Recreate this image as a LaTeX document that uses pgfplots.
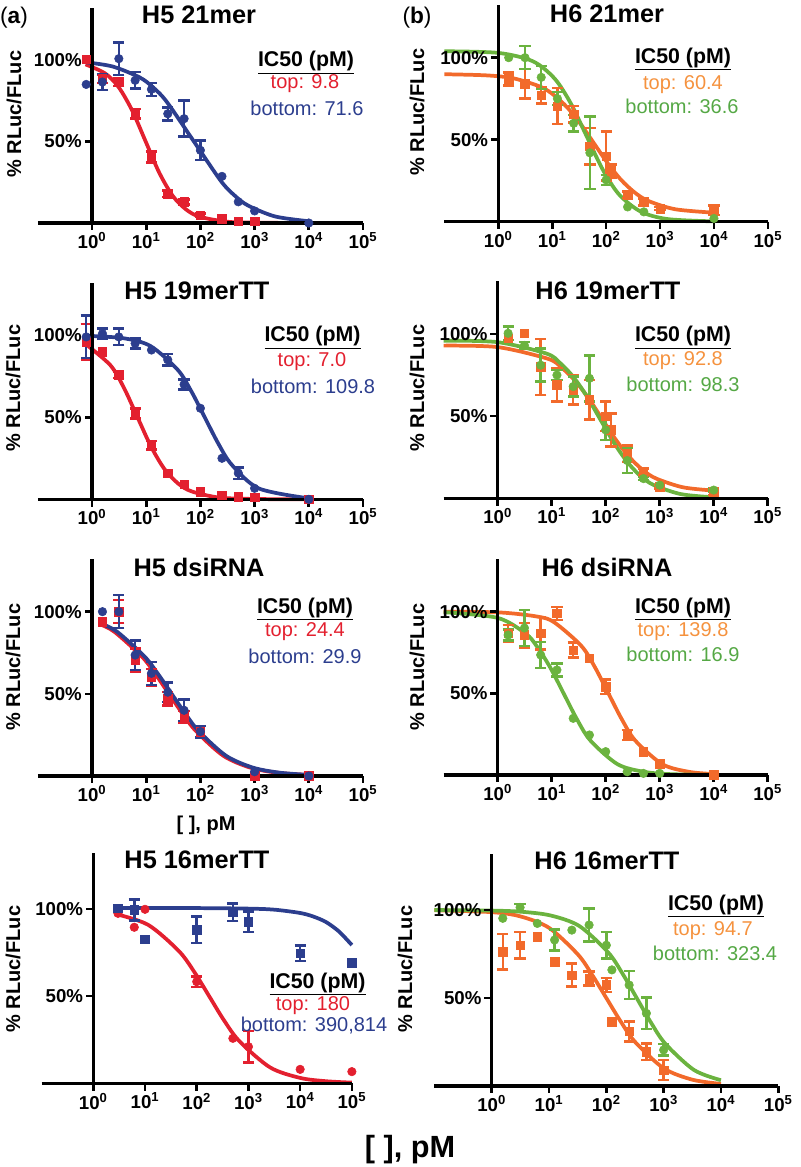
\documentclass[border=0pt]{standalone}
\usepackage{fontspec}
\setmainfont{Liberation Sans}
\usepackage{pgfplots}
\pgfplotsset{compat=1.18}

\definecolor{cR}{HTML}{E3202F}
\definecolor{cB}{HTML}{2C3E8E}
\definecolor{cO}{HTML}{F26A2B}
\definecolor{cG}{HTML}{6BB33F}
\definecolor{tO}{HTML}{F5923E}
\definecolor{tG}{HTML}{55A845}

\newcommand\fs[1]{\fontsize{#1}{#1}\selectfont}

\pgfplotsset{
  panel/.style={scale only axis, hide axis, clip=false, anchor=south west,
    xmin=-1, xmax=5, ymin=0, ymax=132},
  fit/.style={smooth, no marks, line width=2.8pt},
  dots/.style={only marks, mark size=3.2pt},
  pts/.style={only marks, mark size=3.2pt,
    error bars/y dir=both, error bars/y explicit,
    error bars/error bar style={line width=1.9pt, solid},
    error bars/error mark options={line width=1.9pt, mark size=4.2pt, rotate=90}},
}

% axis lines, ticks and tick labels (x in log10 pM)
\newcommand\frameaxes{%
  \draw[line width=2.6pt] (axis cs:-1,0) -- (axis cs:5,0);
  \draw[line width=2.6pt] (axis cs:0,0) -- (axis cs:0,132);
  \draw[line width=2pt] (axis cs:0,100) -- ++(-5.5pt,0pt);
  \draw[line width=2pt] (axis cs:0,50) -- ++(-5.5pt,0pt);
  \node[anchor=east, inner sep=0pt, font=\fs{14}\bfseries] at ([xshift=-7.5pt]axis cs:0,100) {100\%};
  \node[anchor=east, inner sep=0pt, font=\fs{14}\bfseries] at ([xshift=-7.5pt]axis cs:0,50) {50\%};
  \pgfplotsinvokeforeach{0,...,5}{%
    \draw[line width=2pt] (axis cs:##1,0) -- ++(0pt,-5.5pt);
    \node[anchor=north, inner sep=0pt, font=\fs{14}\bfseries] at ([yshift=-7pt]axis cs:##1,0) {10\textsuperscript{##1}};
  }%
}

\begin{document}
\begin{tikzpicture}[x=0.75pt, y=-0.75pt]
\path[use as bounding box] (0,0) rectangle (800,1167);

% ---- H5 21mer
\begin{axis}[panel, at={(28.35pt,-167.25pt)}, width=243.9pt, height=161.4pt]
\addplot[cR, fit] coordinates {(-0.12,97.3)(0.24,91.8)(0.49,83.4)(0.74,69.1)(0.99,50)(1.24,30.9)(1.49,16.6)(1.74,8.2)(1.99,3.8)(2.49,0.8)(3.0,0.2)(4.0,0)};
\addplot[cB, fit] coordinates {(-0.12,98.6)(0.38,96.0)(0.88,89.3)(1.13,83.1)(1.38,74.3)(1.88,50)(2.38,25.7)(2.63,16.9)(2.88,10.7)(3.38,4.0)(4.0,1.1)};
\addplot[cR, mark=square*, pts] coordinates {
 (0.193,88.5) +- (0,2.5) (0.495,86.5) +- (0,2.5) (0.796,67) +- (0,3)
 (1.097,40.5) +- (0,3.5) (1.398,18) +- (0,2) (1.699,13) +- (0,1.5) (2.0,4.7) +- (0,1)};
\addplot[cR, mark=square*, dots] coordinates {(-0.107,100.5)(2.398,2.7)(2.699,1.2)(3.0,1.2)};
\addplot[cB, mark=*, pts] coordinates {
 (0.193,86.5) +- (0,5) (0.495,100.8) +- (0,10) (0.796,87.5) +- (0,5)
 (1.097,82) +- (0,4) (1.398,67) +- (0,4) (1.699,64) +- (0,11) (2.0,44.6) +- (0,6)};
\addplot[cB, mark=*, dots] coordinates {(-0.107,85)(2.398,28.6)(2.699,13)(3.0,7.4)(4.0,0)};
\frameaxes
\end{axis}

% ---- H6 21mer
\begin{axis}[panel, at={(333.3pt,-166.275pt)}, width=242.6pt, height=162.4pt]
\addplot[cO, fit] coordinates {(-1,89.9)(-0.22,89.2)(0.28,87.4)(0.78,82.3)(1.03,77.2)(1.28,69.6)(1.53,59.4)(1.78,47.5)(2.03,35.6)(2.28,25.4)(2.53,17.8)(2.78,12.7)(3.28,7.6)(4.0,5.5)};
\addplot[cG, fit] coordinates {(-1,103.9)(0,102.9)(0.64,97.8)(1.04,87.4)(1.34,72.4)(1.64,52)(1.94,31.6)(2.24,16.6)(2.64,6.2)(3.14,1.6)(4.0,0.2)};
\addplot[cO, mark=square*, pts] coordinates {
 (0.193,87) +- (0,4) (0.495,84) +- (0,9) (0.796,77) +- (0,5)
 (1.097,70.5) +- (0,11) (1.398,65.4) +- (0,5) (1.699,46) +- (0,11)
 (2.0,40) +- (0,15) (2.097,31) +- (0,4) (2.398,16.4) +- (0,2)
 (2.699,12) +- (0,2) (3.0,8) +- (0,1) (4.0,7) +- (0,3)};
\addplot[cG, mark=*, pts] coordinates {
 (0.495,100) +- (0,7) (0.796,88) +- (0,7) (1.097,75) +- (0,4)
 (1.398,60) +- (0,5) (1.699,42) +- (0,22) (2.0,25.5) +- (0,3)};
\addplot[cG, mark=*, dots] coordinates {(0.193,100)(2.398,9)(2.699,6)(4.0,2)};
\frameaxes
\end{axis}

% ---- H5 19merTT
\begin{axis}[panel, at={(28.35pt,-374.475pt)}, width=243.9pt, height=162.4pt]
\addplot[cR, fit] coordinates {(-0.12,94.7)(0.34,81.7)(0.59,67.9)(0.84,50)(1.09,32.1)(1.34,18.3)(1.59,9.6)(1.84,4.8)(2.34,1.1)(3.0,0.2)(4.0,0)};
\addplot[cB, fit] coordinates {(-0.12,99.7)(0.58,98.2)(1.08,93.4)(1.58,79)(1.83,66)(2.08,50)(2.33,34)(2.58,21)(3.08,6.6)(4.0,0.6)};
\addplot[cR, mark=square*, pts] coordinates {
 (-0.107,96) +- (0,11) (0.495,76) +- (0,2) (0.796,52.4) +- (0,3) (1.097,33) +- (0,2.5)};
\addplot[cR, mark=square*, dots] coordinates {(0.193,90)(1.398,16)(1.699,9.3)(2.0,4.7)(2.398,2.6)(2.699,1.6)(3.0,1.2)(4.0,0)};
\addplot[cB, mark=*, pts] coordinates {
 (-0.107,99) +- (0,13) (0.193,101) +- (0,3) (0.495,99) +- (0,5)
 (0.796,95) +- (0,3) (1.398,85) +- (0,3.5) (1.699,70) +- (0,3) (2.699,16) +- (0,3.5)};
\addplot[cB, mark=*, dots] coordinates {(1.097,91)(2.0,55.5)(2.398,25)(3.0,6.7)(4.0,0)};
\frameaxes
\end{axis}

% ---- H6 19merTT
\begin{axis}[panel, at={(332.775pt,-373.725pt)}, width=243pt, height=162.7pt]
\addplot[cO, fit] coordinates {(-1,92.9)(0,92.0)(0.93,84.9)(1.18,79.6)(1.43,71.6)(1.68,61.0)(1.93,48.5)(2.18,36.0)(2.43,25.4)(2.68,17.4)(2.93,12.1)(3.43,6.7)(4.0,4.7)};
\addplot[cG, fit] coordinates {(-1,95.9)(0,95.0)(0.9,88.1)(1.15,82.5)(1.4,73.9)(1.65,62.1)(1.9,48)(2.15,33.9)(2.4,22.1)(2.65,13.4)(2.9,7.9)(3.4,2.5)(4.0,0.6)};
\addplot[cO, mark=square*, pts] coordinates {
 (0.796,80) +- (0,17) (1.097,69) +- (0,10) (1.398,66) +- (0,9) (1.699,60) +- (0,12)
 (2.0,50) +- (0,9) (2.097,41.6) +- (0,10) (2.398,27) +- (0,5)
 (2.699,16) +- (0,2) (3.0,7) +- (0,1) (4.0,4) +- (0,2)};
\addplot[cO, mark=square*, dots] coordinates {(0.193,97.4)(0.495,100.4)};
\addplot[cG, mark=*, pts] coordinates {
 (0.193,100.4) +- (0,4) (0.495,93) +- (0,2) (0.796,81) +- (0,10)
 (1.097,75) +- (0,3) (1.398,68) +- (0,6) (1.699,73) +- (0,14)
 (2.0,41.6) +- (0,6) (2.398,23) +- (0,7.5) (2.699,12) +- (0,1) (4.0,5) +- (0,1)};
\addplot[cG, mark=*, dots] coordinates {(3.0,8)};
\frameaxes
\end{axis}

% ---- H5 dsiRNA
\begin{axis}[panel, at={(28.35pt,-582pt)}, width=243.9pt, height=162.7pt]
\addplot[cR, fit] coordinates {(0.18,91.9)(0.42,87.6)(0.92,72.7)(1.17,62)(1.42,50)(1.67,38)(1.92,27.3)(2.42,12.4)(2.92,5.1)(3.42,2.0)(4.0,0.6)};
\addplot[cB, fit] coordinates {(0.18,92.6)(0.47,87.6)(0.97,72.7)(1.22,62)(1.47,50)(1.72,38)(1.97,27.3)(2.47,12.4)(2.97,5.1)(3.47,2.0)(4.0,0.7)};
\addplot[cR, mark=square*, pts] coordinates {
 (0.495,100) +- (0,7) (0.796,70.6) +- (0,7) (1.097,60) +- (0,5)
 (1.398,47) +- (0,4) (1.699,36) +- (0,3.5)};
\addplot[cR, mark=square*, dots] coordinates {(0.193,94)(2.0,27)(3.0,0)(4.0,0)};
\addplot[cB, mark=*, pts] coordinates {
 (0.495,100) +- (0,10) (0.796,73.6) +- (0,9) (1.097,62.5) +- (0,7)
 (1.398,51) +- (0,6) (1.699,40) +- (0,6.5) (2.0,27) +- (0,3.5)};
\addplot[cB, mark=*, dots] coordinates {(0.193,100)(3.0,2.6)(4.0,0)};
\frameaxes
\end{axis}

% ---- H6 dsiRNA
\begin{axis}[panel, at={(332.775pt,-581.25pt)}, width=243pt, height=161.7pt]
\addplot[cO, fit] coordinates {(-1,100)(0.05,99.5)(0.75,96.9)(1.05,93.4)(1.55,79)(1.8,66)(2.05,50)(2.3,34)(2.55,21)(3.05,6.6)(3.55,1.9)(4.0,0.6)};
\addplot[cG, fit] coordinates {(-1,99.7)(0,96.2)(0.52,86.5)(0.72,79)(0.97,66)(1.22,50)(1.47,34)(1.72,21)(2.22,6.6)(2.72,1.9)(3.22,0.5)(4.0,0.1)};
\addplot[cO, mark=square*, pts] coordinates {
 (0.193,86.7) +- (0,5) (0.495,85.7) +- (0,7.5) (0.796,86.7) +- (0,10)
 (1.097,99) +- (0,4) (1.398,76.5) +- (0,4.5) (2.0,54) +- (0,4.5) (2.398,24.5) +- (0,3)};
\addplot[cO, mark=square*, dots] coordinates {(1.699,71.4)(2.699,14.3)(3.0,7)(4.0,0)};
\addplot[cG, mark=*, pts] coordinates {
 (0.193,85.7) +- (0,3.5) (0.495,90) +- (0,11) (0.796,73.5) +- (0,8) (1.097,64.3) +- (0,4)};
\addplot[cG, mark=*, dots] coordinates {(1.398,34.7)(1.699,24.5)(2.0,14.3)(2.398,2)(2.699,1)(3.0,1)};
\frameaxes
\end{axis}

% ---- H5 16merTT
\begin{axis}[panel, at={(31.2pt,-812.475pt)}, width=232.7pt, height=172.6pt]
\addplot[cR, fit] coordinates {(0.42,97.2)(1.06,90.9)(1.65,76)(1.95,64)(2.24,50)(2.53,36)(2.83,24)(3.42,9.1)(4.0,3.1)(4.5,1.2)(5.0,0.4)};
\addplot[cB, fit] coordinates {(0.45,100.5)(2.0,100.5)(3.0,100.2)(3.5,99.6)(4.0,97.7)(4.25,95.7)(4.5,92.5)(4.75,87.1)(5.0,79.3)};
\addplot[cR, mark=*, pts] coordinates {(2.0,58.3) +- (0,3) (3.0,21) +- (0,9)};
\addplot[cR, mark=*, dots] coordinates {(0.477,97.5)(0.792,89.5)(1.0,99.8)(2.699,25.8)(4.0,8)(5.0,6.7)};
\addplot[cB, mark=square*, pts] coordinates {
 (0.792,99.4) +- (0,6) (2.0,88) +- (0,7.6) (2.699,98) +- (0,5)
 (3.0,92.7) +- (0,6) (4.0,74.6) +- (0,4.5)};
\addplot[cB, mark=square*, dots] coordinates {(0.477,100.4)(1.0,82.6)(5.0,69.2)};
\frameaxes
\end{axis}

% ---- H6 16merTT
\begin{axis}[panel, at={(325.8pt,-814.5pt)}, width=257.9pt, height=174.2pt]
\addplot[cO, fit] coordinates {(-1,99.9)(0,98.8)(0.5,96.4)(1.0,89.9)(1.5,74.9)(1.75,63.3)(2.0,50)(2.25,36.7)(2.5,25.1)(3.0,10.1)(3.5,3.6)(4.0,1.2)};
\addplot[cG, fit] coordinates {(-1,100)(0,99.7)(0.53,99.0)(1.03,96.9)(1.53,90.9)(2.03,76.0)(2.28,64)(2.53,50)(2.78,36)(3.03,24)(3.53,9.1)(4.0,3.3)};
\addplot[cO, mark=square*, pts] coordinates {
 (0.193,76.3) +- (0,10) (0.495,80) +- (0,7.6) (1.398,63) +- (0,6.5) (1.699,61) +- (0,4)
 (2.0,57.4) +- (0,4) (2.398,31) +- (0,5.7) (2.699,19.5) +- (0,4.7) (3.0,9) +- (0,5.7)};
\addplot[cO, mark=square*, dots] coordinates {(0.796,84.8)(1.097,70.6)(2.097,36.6)};
\addplot[cG, mark=*, pts] coordinates {
 (0.495,101.5) +- (0,2) (1.097,83) +- (0,6) (1.699,91.5) +- (0,9.5)
 (2.0,80) +- (0,7.5) (2.398,57.4) +- (0,8) (2.699,41.3) +- (0,9) (3.0,20.5) +- (0,3.3)};
\addplot[cG, mark=*, dots] coordinates {(0.193,95.3)(0.796,92.4)(1.398,88.6)(2.097,66)};
\frameaxes
\end{axis}

% ---- panel letters and titles
\node[anchor=base, font=\fs{17}] at (14,23) {(\textbf{a})};
\node[anchor=base, font=\fs{17}] at (417,23) {(\textbf{b})};
\begin{scope}[every node/.style={anchor=base, font=\fs{19}\bfseries}]
\node at (199,23.3) {H5 21mer};
\node at (607,22.7) {H6 21mer};
\node at (197,299) {H5 19merTT};
\node at (608,299) {H6 19merTT};
\node at (199,576) {H5 dsiRNA};
\node at (607,576) {H6 dsiRNA};
\node at (197,868) {H5 16merTT};
\node at (607,869) {H6 16merTT};
\end{scope}

% ---- y labels
\begin{scope}[every node/.style={rotate=90, font=\fs{15}\bfseries}]
\node at (14,114) {\% RLuc/FLuc};
\node at (417,112) {\% RLuc/FLuc};
\node at (13,388) {\% RLuc/FLuc};
\node at (417,388) {\% RLuc/FLuc};
\node at (13,667) {\% RLuc/FLuc};
\node at (417,667) {\% RLuc/FLuc};
\node at (13,969) {\% RLuc/FLuc};
\node at (405,969) {\% RLuc/FLuc};
\end{scope}

% ---- IC50 blocks
\begin{scope}[every node/.style={anchor=base, font=\fs{15}}]
\node[font=\fs{16}\bfseries] at (306,66.7) {\underline{IC50 (pM)}};
\node[cR] at (305,88.3) {top: 9.8};
\node[cB] at (307,115) {bottom: 71.6};
\node[font=\fs{16}\bfseries] at (683,63.3) {\underline{IC50 (pM)}};
\node[tO] at (683,89) {top: 60.4};
\node[tG] at (682,113) {bottom: 36.6};
\node[font=\fs{16}\bfseries] at (312.5,341.7) {\underline{IC50 (pM)}};
\node[cR] at (312,366.7) {top: 7.0};
\node[cB] at (313,393.3) {bottom: 109.8};
\node[font=\fs{16}\bfseries] at (683,341.7) {\underline{IC50 (pM)}};
\node[tO] at (683,365) {top: 92.8};
\node[tG] at (683,391.7) {bottom: 98.3};
\node[font=\fs{16}\bfseries] at (305,613.3) {\underline{IC50 (pM)}};
\node[cR] at (305,636.7) {top: 24.4};
\node[cB] at (305,663.3) {bottom: 29.9};
\node[font=\fs{16}\bfseries] at (683,613.3) {\underline{IC50 (pM)}};
\node[tO] at (683,636.7) {top: 139.8};
\node[tG] at (683,661.7) {bottom: 16.9};
\node[font=\fs{16}\bfseries] at (317.5,988.3) {\underline{IC50 (pM)}};
\node[cR] at (313,1010) {top: 180};
\node[cB] at (314,1031.7) {bottom: 390,814};
\node[font=\fs{16}\bfseries] at (716,910) {\underline{IC50 (pM)}};
\node[tO] at (713,935) {top: 94.7};
\node[tG] at (715,960) {bottom: 323.4};
\end{scope}

% ---- x labels
\node[anchor=base, font=\fs{15}\bfseries] at (206,830) {[ ], pM};
\node[anchor=base, font=\fs{23}\bfseries] at (410,1157) {[ ], pM};
\end{tikzpicture}
\end{document}
